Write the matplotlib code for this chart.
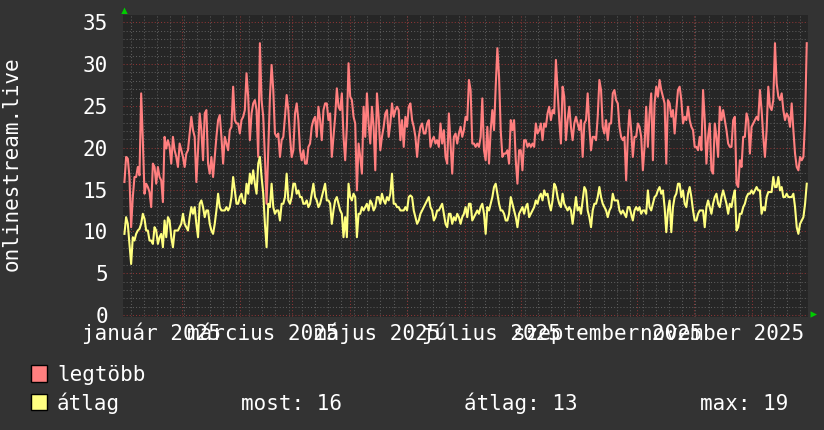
import numpy as np
import pandas as pd
import matplotlib
matplotlib.use("Agg")
import matplotlib.pyplot as plt
from matplotlib.patches import Rectangle, Polygon
from matplotlib.transforms import Affine2D, blended_transform_factory
import matplotlib.dates as mdates

# ---------------- data ----------------
legtobb = [
    15.9, 18.9, 18.7, 16.5, 10.5, 14.1, 16.5, 16.5, 17.7, 16.7, 26.5, 20.9, 14.5, 15.7, 15.3, 14.7, 12.9, 18.1, 17.7, 15.7,
    17.7, 16.5, 16.1, 13.5, 21.3, 19.9, 20.9, 20.1, 18.1, 21.3, 19.7, 18.9, 17.7, 20.5, 19.7, 18.9, 17.7, 19.3, 19.7, 21.7,
    23.7, 22.1, 21.3, 15.9, 19.7, 24.1, 22.1, 18.5, 24.1, 24.5, 18.1, 16.9, 18.9, 16.5, 18.9, 21.3, 23.3, 23.9, 21.3, 18.1,
    21.3, 20.5, 19.7, 22.1, 22.5, 27.3, 23.3, 22.9, 22.9, 21.7,
    23.3, 23.7, 24.5, 28.9, 26.1, 20.9, 24.1, 25.3, 25.7, 24.5, 18.9, 32.5, 25.7, 23.7, 18.9, 13.3, 19.7, 26.1, 29.9, 26.9,
    21.7, 21.3, 21.7, 18.9, 20.9, 21.3, 23.7, 26.3, 24.5, 21.3, 18.9, 19.7, 24.1, 25.3, 23.3, 19.7, 18.5, 19.7, 18.1, 18.1,
    20.1, 20.5, 22.5, 23.3, 23.7, 21.3, 24.9, 23.3, 20.9, 24.5, 25.3, 25.3, 23.3, 24.1, 18.9, 21.3, 23.7, 27.1, 24.9, 24.5,
    26.5, 21.3, 18.5, 22.5, 30.1, 26.1, 25.7, 23.7, 22.9,
    14.9, 20.5, 18.9, 16.9, 24.9, 21.3, 26.5, 22.9, 20.5, 24.9, 22.5, 17.3, 26.5, 23.7, 19.7, 21.3, 22.5, 24.1, 24.5, 21.3,
    22.9, 25.3, 23.7, 24.5, 24.9, 24.5, 20.9, 23.3, 20.1, 23.7, 22.5, 24.9, 25.3, 23.3, 22.5, 21.3, 18.9, 21.3, 22.5, 22.9,
    21.7, 21.7, 22.9, 23.3, 20.1, 20.9, 21.3, 20.5, 20.9, 20.1, 22.9, 20.5, 22.1, 18.9, 18.1, 24.1, 20.5, 16.9, 21.3, 21.7,
    20.5, 21.7, 22.5, 21.3, 22.1, 23.7, 23.3, 28.1, 26.9,
    20.5, 20.5, 20.1, 20.5, 20.1, 21.3, 25.9, 19.7, 18.5, 22.5, 18.1, 22.1, 24.5, 22.1, 27.3, 31.9, 28.5, 22.1, 18.9, 19.3,
    19.3, 19.7, 18.1, 23.3, 22.1, 23.3, 18.5, 15.7, 19.7, 19.7, 17.3, 20.9, 20.9, 20.1, 20.5, 20.1, 20.5, 20.1, 22.9, 21.7,
    22.1, 22.9, 20.9, 22.9, 22.5, 24.1, 24.9, 23.3, 24.5, 24.1, 30.5, 26.9, 23.3, 20.5, 27.3, 26.1, 20.9, 23.3, 24.9, 22.5,
    20.9, 22.9, 23.7, 22.9, 22.1, 23.3, 18.9, 22.9, 23.3,
    26.5, 22.5, 19.7, 21.3, 21.3, 20.9, 23.7, 28.1, 26.9, 22.5, 21.7, 23.3, 20.9, 22.9, 22.9, 26.5, 26.9, 25.7, 25.3, 22.5,
    21.3, 20.9, 21.3, 16.1, 21.3, 24.5, 22.1, 18.9, 21.3, 21.3, 22.9, 22.5, 21.3, 17.3, 20.1, 24.9, 20.1, 24.1, 26.5, 18.5,
    25.3, 27.3, 26.1, 28.1, 26.9, 26.1, 25.3, 18.1, 25.7, 25.3, 23.7, 24.5, 21.7, 24.5, 26.9, 27.3, 25.7, 22.9, 23.7, 23.3,
    24.9, 23.3, 22.5, 22.1, 20.1, 20.1, 19.7, 21.3, 19.7,
    26.9, 23.3, 18.1, 21.3, 22.9, 17.3, 16.9, 22.9, 21.3, 18.9, 24.9, 23.3, 24.5, 23.3, 22.1, 20.5, 20.1, 20.1, 23.3, 23.7,
    15.7, 15.3, 18.5, 17.7, 21.3, 21.3, 24.1, 23.3, 19.3, 22.5, 22.9, 23.3, 23.7, 23.3, 26.9, 24.5, 21.3, 18.9, 22.1, 27.3,
    24.9, 24.5, 25.7, 32.5, 27.7, 26.1, 25.7, 26.5, 24.5, 23.3, 24.1, 23.7, 22.5, 25.3, 22.1, 19.3, 17.7, 17.3, 18.9, 18.5,
    18.9, 23.3, 32.5,
]

atlag = [
    9.7, 11.7, 10.9, 8.5, 6.1, 9.3, 8.9, 9.7, 10.1, 10.3, 10.9, 12.1, 11.5, 10.1, 10.1, 8.9, 8.9, 8.5, 10.5, 10.1,
    8.5, 9.3, 9.7, 8.1, 11.3, 9.3, 11.7, 11.3, 9.3, 8.1, 10.1, 10.1, 10.1, 10.5, 10.9, 12.1, 10.9, 10.5, 10.1, 11.7,
    12.9, 12.1, 12.9, 10.9, 9.3, 13.3, 13.7, 12.9, 11.7, 12.5, 12.5, 10.9, 10.1, 9.7, 10.9, 12.5, 14.5, 12.9, 12.5, 12.5,
    12.5, 12.9, 12.5, 12.9, 14.1, 16.5, 14.9, 13.3, 13.3, 14.1,
    14.5, 13.5, 13.3, 15.7, 14.5, 16.9, 15.7, 17.3, 15.7, 14.5, 18.1, 18.9, 16.5, 14.5, 10.9, 8.1, 13.3, 12.9, 15.7, 12.9,
    12.1, 12.5, 12.5, 11.3, 13.3, 13.3, 14.1, 16.9, 13.7, 13.3, 14.1, 15.7, 15.7, 14.5, 14.9, 14.1, 14.1, 13.3, 13.3, 13.7,
    12.9, 13.3, 14.5, 15.7, 14.1, 13.7, 12.9, 13.3, 14.1, 14.9, 15.7, 13.7, 13.7, 13.3, 10.9, 12.5, 13.7, 14.1, 13.3, 12.5,
    12.1, 9.3, 11.7, 9.3, 15.7, 14.1, 13.7, 14.5, 14.1,
    9.3, 12.1, 12.1, 12.9, 12.5, 12.9, 13.3, 12.5, 13.7, 13.3, 12.5, 12.9, 14.1, 14.1, 13.3, 14.5, 13.7, 13.3, 14.1, 13.7,
    14.5, 16.9, 13.3, 13.3, 12.9, 12.9, 12.5, 12.5, 12.5, 12.9, 12.5, 14.1, 14.3, 14.1, 12.5, 11.7, 10.9, 11.3, 12.1, 12.5,
    12.9, 13.3, 13.7, 14.1, 12.9, 12.5, 11.3, 11.7, 12.5, 12.5, 12.9, 13.3, 12.1, 10.9, 10.5, 12.1, 12.1, 10.9, 11.7, 11.3,
    12.1, 11.7, 10.9, 11.7, 12.1, 12.9, 11.7, 13.3, 13.3,
    11.3, 11.7, 12.1, 12.5, 12.1, 12.9, 13.3, 12.1, 9.7, 12.9, 12.5, 13.3, 14.1, 15.3, 15.7, 14.5, 13.3, 12.5, 12.5, 12.1,
    11.3, 11.3, 12.1, 14.1, 13.3, 12.5, 11.7, 10.5, 12.1, 12.5, 12.9, 12.1, 12.9, 13.3, 11.7, 12.1, 12.5, 12.9, 13.7, 13.3,
    14.1, 14.5, 13.7, 14.9, 14.3, 14.5, 13.3, 12.5, 13.7, 15.7, 15.3, 14.1, 13.3, 12.9, 14.5, 13.3, 12.9, 12.5, 12.9, 12.5,
    10.9, 12.5, 14.1, 12.5, 12.9, 12.1, 13.7, 15.3, 14.9,
    12.5, 11.7, 10.5, 12.5, 13.3, 13.3, 14.1, 15.3, 14.1, 13.3, 12.9, 12.5, 11.7, 12.5, 12.9, 14.5, 13.7, 13.7, 13.7, 12.5,
    12.1, 12.5, 12.1, 11.7, 12.9, 12.9, 12.1, 11.3, 12.5, 12.9, 12.5, 12.9, 12.1, 12.5, 12.5, 12.1, 14.9, 12.9, 12.5, 13.3,
    14.1, 14.3, 14.9, 15.3, 14.5, 14.9, 12.9, 9.9, 12.5, 13.7, 9.9, 12.9, 14.1, 14.5, 15.7, 15.7, 14.1, 14.9, 13.3, 12.9,
    14.5, 15.3, 14.1, 12.5, 11.3, 11.3, 12.1, 12.5, 12.5,
    12.5, 10.5, 12.9, 13.7, 12.9, 12.1, 13.3, 14.1, 14.5, 13.3, 12.9, 14.1, 14.9, 14.1, 13.3, 12.1, 13.3, 12.9, 14.1, 14.9,
    10.1, 10.5, 12.1, 12.1, 12.9, 13.3, 14.1, 14.5, 14.5, 14.9, 14.5, 14.9, 15.3, 14.9, 14.9, 12.1, 12.9, 12.5, 14.1, 14.7,
    14.7, 14.7, 16.5, 15.3, 15.3, 16.5, 14.9, 15.3, 14.1, 14.1, 14.5, 14.1, 14.1, 14.1, 14.5, 12.9, 10.5, 9.7, 10.9, 11.3,
    11.7, 13.3, 15.7,
]

month_labels = ["január 2025", "március 2025", "május 2025",
                "július 2025", "szeptember 2025", "november 2025"]
label_months = ["2025-01-01", "2025-03-01", "2025-05-01",
                "2025-07-01", "2025-09-01", "2025-11-01"]
y_ticks = [0, 5, 10, 15, 20, 25, 30, 35]
series_names = ["legtöbb", "átlag"]
stat_texts = ["most: 16", "átlag: 13", "max: 19"]
y_title = "onlinestream.live"

# ---------------- style ----------------
W, H = 824, 430
BG = "#333333"
PLOT_BG = "#262626"
RED = "#ff7f7f"
YEL = "#ffff80"
MINOR = "#5c5c5c"
MAJOR = "#8c3535"
TXT = "#ffffff"
FONT = "DejaVu Sans Mono"
FS = 15

t0 = pd.Timestamp("2024-12-01")
t1 = pd.Timestamp("2025-12-01")
times = pd.date_range("2024-12-01 12:00", "2025-11-30 08:00", periods=len(legtobb))

fig = plt.figure(figsize=(W / 100, H / 100), dpi=100, facecolor=BG)
pix = Affine2D().scale(1 / W, -1 / H).translate(0, 1) + fig.transFigure

ax = fig.add_axes([123.5 / W, 1 - 317 / H, (808 - 123.5) / W, (317 - 15) / H])
ax.set_facecolor(PLOT_BG)
for s in ax.spines.values():
    s.set_visible(False)

ax.set_xlim(mdates.date2num(t0), mdates.date2num(t1))
ax.set_ylim(-0.24, 35.87)

dots = (0, (1, 2))
# horizontal grid
for v in range(0, 36):
    if v % 5 == 0:
        ax.axhline(v, color=MAJOR, lw=0.75, ls=dots, zorder=1)
    else:
        ax.axhline(v, color=MINOR, lw=0.75, ls=dots, zorder=1)
# vertical grid: weekly minor, monthly major
weeks = pd.date_range("2024-12-05", t1, freq="7D")
for d in weeks:
    ax.axvline(mdates.date2num(d), color=MINOR, lw=0.75, ls=dots, zorder=1)
months = pd.date_range("2025-01-01", t1, freq="MS")
for d in months:
    ax.axvline(mdates.date2num(d), color=MAJOR, lw=0.75, ls=dots, zorder=1)

ax.plot(times, legtobb, color=RED, lw=1.5, zorder=3)
ax.plot(times, atlag, color=YEL, lw=1.5, zorder=4)

# y ticks
ax.set_yticks(y_ticks)
ax.set_yticklabels([str(v) for v in y_ticks], fontfamily=FONT, fontsize=FS, color=TXT)
ax.tick_params(axis="y", length=0, pad=11.2)
ax.set_xticks([])

# x labels (rrdtool style, centred ~16 days before the month start)
xlab_tr = blended_transform_factory(ax.transData, pix)
for lab, m in zip(month_labels, label_months):
    xpos = mdates.date2num(pd.Timestamp(m) - pd.Timedelta(days=16))
    ax.text(xpos, 339.5, lab, transform=xlab_tr, ha="center", va="baseline",
            fontfamily=FONT, fontsize=FS, color=TXT, clip_on=False)

# y title
fig.text(11.5 / W, 1 - 164 / H, y_title, rotation=90, ha="center", va="center",
         fontfamily=FONT, fontsize=FS, color=TXT)

# arrows
fig.add_artist(Polygon([(121.3, 14), (127.7, 14), (124.5, 7.5)], closed=True,
                       transform=pix, facecolor="#00cc00", edgecolor="none"))
fig.add_artist(Polygon([(810.5, 311.3), (810.5, 317.7), (817, 314.5)], closed=True,
                       transform=pix, facecolor="#00cc00", edgecolor="none"))

# legend
for (name, col, ytop) in [(series_names[0], RED, 365), (series_names[1], YEL, 393.5)]:
    fig.add_artist(Rectangle((31, ytop), 16, 16.5, transform=pix, facecolor=col,
                             edgecolor="black", lw=1))
fig.text(57, 381, series_names[0], transform=pix, ha="left", va="baseline",
         fontfamily=FONT, fontsize=FS, color=TXT)
fig.text(57, 410, series_names[1], transform=pix, ha="left", va="baseline",
         fontfamily=FONT, fontsize=FS, color=TXT)
for txt, x in zip(stat_texts, [241, 464, 700]):
    fig.text(x, 410, txt, transform=pix, ha="left", va="baseline",
             fontfamily=FONT, fontsize=FS, color=TXT)

fig.savefig("out.png", dpi=100, facecolor=BG)
